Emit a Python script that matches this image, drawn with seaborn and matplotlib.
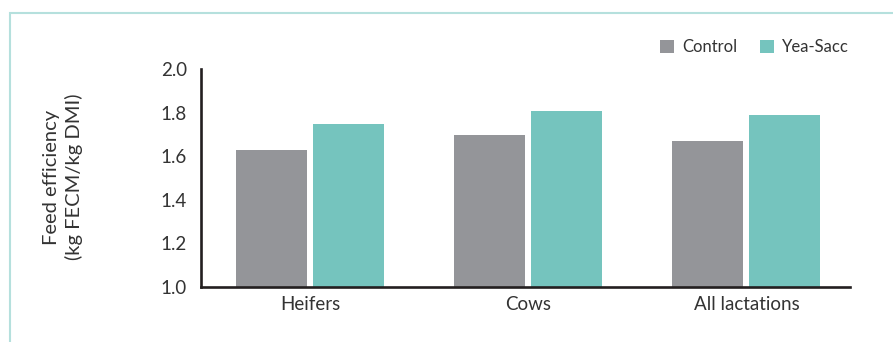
import matplotlib
matplotlib.use("Agg")
import matplotlib.pyplot as plt
import seaborn as sns
import pandas as pd
from matplotlib.patches import Rectangle, Patch

categories = ["Heifers", "Cows", "All lactations"]
series_names = ["Control", "Yea-Sacc"]
control = [1.63, 1.70, 1.67]
yea_sacc = [1.75, 1.81, 1.79]
y_ticks = [1.0, 1.2, 1.4, 1.6, 1.8, 2.0]
y_label = "Feed efficiency\n(kg FECM/kg DMI)"

colors = {"Control": "#949599", "Yea-Sacc": "#75c4be"}
text_color = "#333333"
axis_color = "#231f20"

df = pd.DataFrame({
    "category": categories * 2,
    "series": [series_names[0]] * 3 + [series_names[1]] * 3,
    "value": control + yea_sacc,
})

sns.set_theme(style="white")
plt.rcParams["font.family"] = ["Lato", "DejaVu Sans"]

fig = plt.figure(figsize=(8.93, 3.42), dpi=100)
ax = fig.add_axes([201 / 893, 1 - 286.7 / 342, (850 - 201) / 893, (286.7 - 69.3) / 342])

# teal frame
fig.patches.append(Rectangle((10 / 893, -0.2), 1.2, 1 - 13 / 342 + 0.2,
                             transform=fig.transFigure, fill=False,
                             edgecolor="#b5e0dd", linewidth=1.5, zorder=0))

sns.barplot(data=df, x="category", y="value", hue="series", order=categories,
            hue_order=series_names, palette=colors, saturation=1,
            width=0.705, gap=0.075, ax=ax, legend=False, linewidth=0)

ax.set_ylim(1.0, 2.0)
ax.set_xlim(-0.5, 2.475)
ax.set_yticks(y_ticks)
ax.set_yticklabels([f"{v:.1f}" for v in y_ticks])
ax.set_xlabel("")
ax.set_ylabel("")
ax.tick_params(axis="both", length=0, labelsize=13.5, colors=text_color)
ax.tick_params(axis="y", pad=10)
ax.tick_params(axis="x", pad=7)

fig.text(63 / 893, 1 - 177 / 342, y_label, rotation=90, ha="center", va="center",
         multialignment="center", fontsize=14.5, color=text_color, linespacing=1.35)

for s in ["top", "right"]:
    ax.spines[s].set_visible(False)
for s in ["left", "bottom"]:
    ax.spines[s].set_color(axis_color)
    ax.spines[s].set_linewidth(1.9)
ax.patch.set_alpha(0)

handles = [Patch(facecolor=colors[n], edgecolor="none", label=n) for n in series_names]
fig.legend(handles=handles, loc="center right", bbox_to_anchor=(849 / 893, 1 - 47 / 342),
           ncol=2, frameon=False, fontsize=12, handlelength=0.8, handleheight=0.8,
           handletextpad=0.5, columnspacing=1.4, labelcolor=text_color, borderaxespad=0,
           borderpad=0)

fig.savefig("out.png", dpi=100)
